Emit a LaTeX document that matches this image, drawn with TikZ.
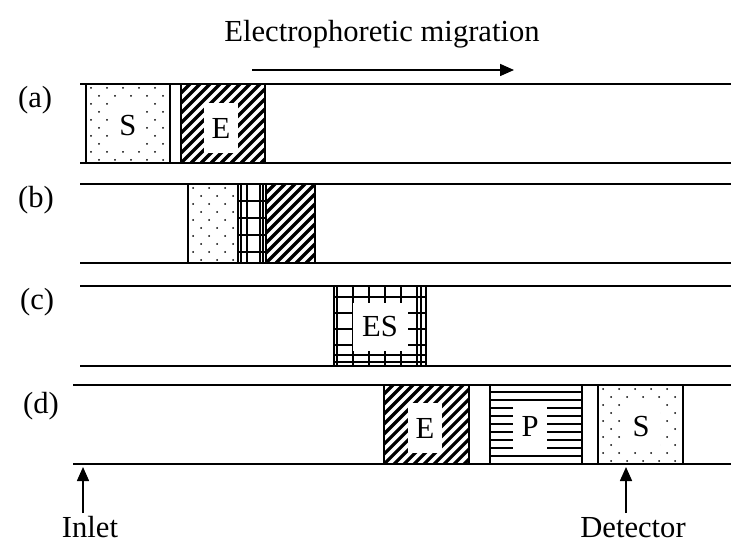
\documentclass[tikz,border=0pt]{standalone}
\usepackage{fontspec}
\setmainfont{Liberation Serif}
\usetikzlibrary{arrows.meta}

% dotted zone (substrate)
\newcommand{\dotzone}[4]{%
  \begin{scope}
    \clip (#1,#2) rectangle (#3,#4);
    \foreach \r in {0,...,10} {
      \foreach \c in {0,...,6} {
        \pgfmathsetmacro{\dx}{mod(\r,2)*8}
        \fill (#1+5+\c*16+\dx,#2+4+\r*8) circle[radius=0.5pt];
      }
    }
  \end{scope}}

% hatched zone (enzyme)
\newcommand{\hatchzone}[4]{%
  \begin{scope}
    \clip (#1,#2) rectangle (#3,#4);
    \foreach \k in {-100,-90,...,100}
      \draw[line width=1.6pt] (#1+\k,#4) -- ++(100,-100);
  \end{scope}}

\begin{document}
\begin{tikzpicture}[x=0.5pt, y=-0.5pt,
  every node/.style={font=\fontsize{15.3}{18}\selectfont},
  channel/.style={line width=1pt},
  zone/.style={line width=1pt},
  gridline/.style={line width=0.8pt},
  tag/.style={fill=white, inner sep=0pt, minimum width=17pt, minimum height=25pt},
  flow/.style={line width=0.8pt, -{Triangle[length=7pt,width=6pt]}}]

\useasboundingbox (0,0) rectangle (731,544);

% Title and migration arrow
\node[anchor=base] at (382,42) (title) {Electrophoretic migration};
\coordinate (migstart) at (252,70);
\coordinate (migend) at (514,70);
\draw[flow] (migstart) -- (migend);

% Panel labels
\node[anchor=base west] at (11,108) (la) {(a)};
\node[anchor=base west] at (11,208) (lb) {(b)};
\node[anchor=base west] at (13,310) (lc) {(c)};
\node[anchor=base west] at (16,413) (ld) {(d)};

% Capillary walls
\draw[channel] (80,84) -- (731,84);
\draw[channel] (80,163) -- (731,163);
\draw[channel] (80,184) -- (731,184);
\draw[channel] (80,263) -- (731,263);
\draw[channel] (80,286) -- (731,286);
\draw[channel] (80,366) -- (731,366);
\draw[channel] (73,385) -- (731,385);
\draw[channel] (73,464) -- (731,464);

% Panel (a): S and E zones
\dotzone{86}{84}{170}{163}
\draw[zone] (86,84) rectangle (170,163);
\node[tag] at (128,126) (sa) {S};
\hatchzone{181}{84}{265}{163}
\draw[zone] (181,84) rectangle (265,163);
\node[tag] at (221,128) (ea) {E};

% Panel (b): zones start to overlap
\dotzone{188}{184}{238}{263}
\draw[zone] (188,184) rectangle (238,263);
\foreach \gx in {241,247,260,263}
  \draw[gridline] (\gx,184) -- (\gx,263);
\foreach \gy in {201,218,235,252}
  \draw[gridline] (238,\gy) -- (266,\gy);
\draw[zone] (238,184) rectangle (266,263);
\hatchzone{266}{184}{315}{263}
\draw[zone] (266,184) rectangle (315,263);

% Panel (c): ES complex
\foreach \gx in {337,353,369,385,401,417,421}
  \draw[gridline] (\gx,286) -- (\gx,366);
\foreach \gy in {297,313,329,345,355,362}
  \draw[gridline] (334,\gy) -- (426,\gy);
\draw[zone] (334,286) rectangle (426,366);
\node[tag, minimum width=27.5pt, minimum height=23.5pt] at (380,327) (esc) {ES};

% Panel (d): E, P and S separated
\hatchzone{384}{385}{469}{464}
\draw[zone] (384,385) rectangle (469,464);
\node[tag] at (425,428) (ed) {E};
\foreach \gy in {392,400,408,416,424,432,440,448,456}
  \draw[line width=0.9pt] (490,\gy) -- (582,\gy);
\draw[zone] (490,385) rectangle (582,464);
\node[tag, minimum height=24pt] at (530,426) (pd) {P};
\dotzone{598}{385}{683}{464}
\draw[zone] (598,385) rectangle (683,464);
\node[tag, minimum width=19pt] at (641,427) (sd) {S};

% Inlet and detector
\node[anchor=base] at (90,537) (inlet) {Inlet};
\node[anchor=base] at (633,537) (detector) {Detector};
\coordinate (inlettail) at (83,513);
\coordinate (inlethead) at (83,467);
\coordinate (dettail) at (626,513);
\coordinate (dethead) at (626,467);
\draw[flow] (inlettail) -- (inlethead);
\draw[flow] (dettail) -- (dethead);

\end{tikzpicture}
\end{document}
